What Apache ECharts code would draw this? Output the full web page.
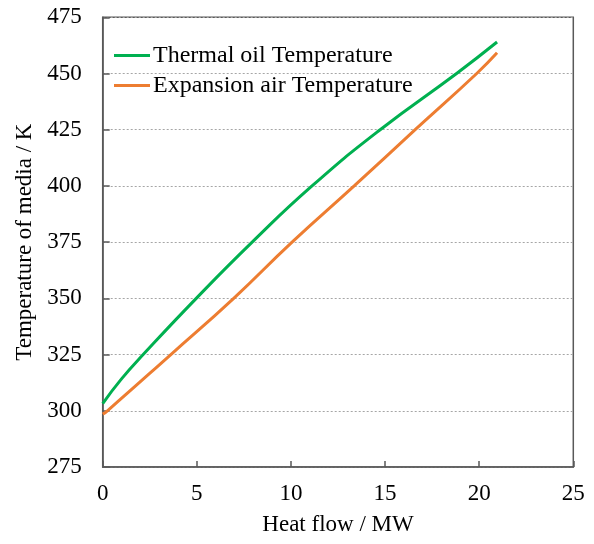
<!DOCTYPE html>
<html>
<head>
<meta charset="utf-8">
<script src="https://cdn.jsdelivr.net/npm/echarts@6/dist/echarts.min.js"></script>
<style>
html,body{margin:0;padding:0;background:#fff;}
#chart{width:594px;height:544px;}
</style>
</head>
<body>
<div id="chart"></div>
<script>
// Heat flow (MW) and temperature (K) readings
const oilHeat = [0, 1, 2.15, 4.97, 7.94, 11.12, 14.74, 18.8, 20.95];
const oilTemp = [303.2, 314.2, 325, 350, 375, 400, 425, 450, 464];
const airHeat = [0, 0.25, 3.62, 6.96, 10.06, 13.36, 16.6, 19.87, 20.95];
const airTemp = [298.5, 300, 325, 350, 375, 400, 425, 450, 459.2];
const seriesNames = ['Thermal oil Temperature', 'Expansion air Temperature'];
const xTicks = [0, 5, 10, 15, 20, 25];
const yTicks = [275, 300, 325, 350, 375, 400, 425, 450, 475];

const font = "'Liberation Serif', 'Times New Roman', serif";
const axisColor = '#595959';
const chart = echarts.init(document.getElementById('chart'), null, {renderer: 'canvas'});
const pair = (xs, ys) => xs.map((x, i) => [x, ys[i]]);
const tickRich = {t: {fontFamily: font, fontSize: 23, color: '#000'}};

chart.setOption({
  animation: false,
  backgroundColor: '#ffffff',
  textStyle: {fontFamily: font},
  grid: {left: 102.7, right: 20.7, top: 17.3, bottom: 77, show: true,
         borderColor: axisColor, borderWidth: 1.5, backgroundColor: 'transparent'},
  legend: {
    left: 114, top: 43, padding: 0, orient: 'vertical', itemWidth: 36, itemHeight: 3, itemGap: 5,
    icon: 'rect',
    data: seriesNames,
    textStyle: {fontFamily: font, fontSize: 24, color: '#000', lineHeight: 25, padding: [0,0,0,-2]}
  },
  xAxis: {
    type: 'value', min: xTicks[0], max: xTicks[xTicks.length-1], interval: 5,
    name: 'Heat flow / MW', nameLocation: 'middle', nameGap: 46,
    nameTextStyle: {fontFamily: font, fontSize: 23, color: '#000'},
    axisLine: {show: true, onZero: false, lineStyle: {color: axisColor, width: 1.5}},
    axisTick: {show: true, inside: true, length: 6, lineStyle: {color: axisColor, width: 1.5}},
    axisLabel: {fontFamily: font, fontSize: 23, color: '#000', margin: 15,
                formatter: v => '{t|' + v + '}', rich: tickRich},
    splitLine: {show: false}
  },
  yAxis: {
    type: 'value', min: yTicks[0], max: yTicks[yTicks.length-1], interval: 25,
    name: 'Temperature of media / K', nameLocation: 'middle', nameGap: 63, nameRotate: 90,
    nameTextStyle: {fontFamily: font, fontSize: 23, color: '#000'},
    axisLine: {show: true, onZero: false, lineStyle: {color: axisColor, width: 1.5}},
    axisTick: {show: true, inside: true, length: 7, lineStyle: {color: axisColor, width: 1.5}},
    axisLabel: {fontFamily: font, fontSize: 23, color: '#000', margin: 21,
                formatter: v => '{t|' + v + '}', rich: tickRich},
    splitLine: {show: true, lineStyle: {color: '#a6a6a6', type: [2, 2], width: 1}}
  },
  series: [
    {name: seriesNames[0], type: 'line', data: pair(oilHeat, oilTemp), smooth: 0.5,
     showSymbol: false, symbol: 'none', color: '#00B050', lineStyle: {width: 3, color: '#00B050'}},
    {name: seriesNames[1], type: 'line', data: pair(airHeat, airTemp), smooth: 0.5,
     showSymbol: false, symbol: 'none', color: '#ED7D31', lineStyle: {width: 3, color: '#ED7D31'}}
  ]
});
</script>
</body>
</html>
